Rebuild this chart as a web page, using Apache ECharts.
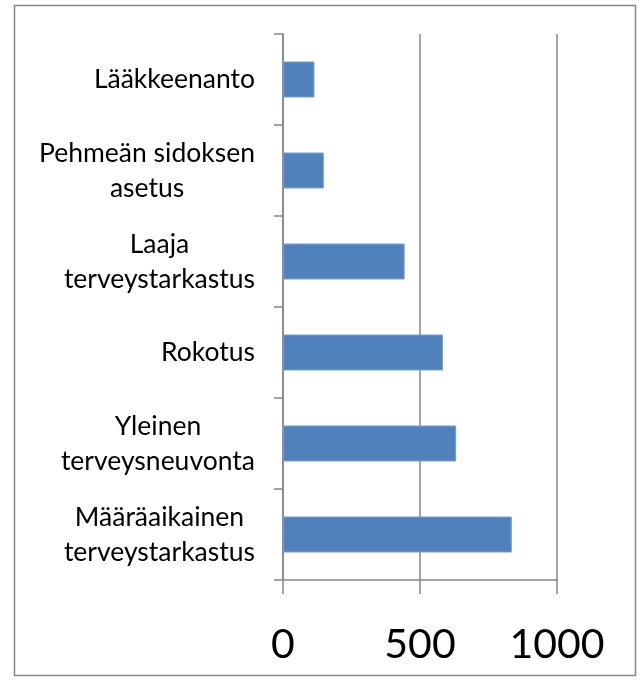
<!DOCTYPE html>
<html lang="fi">
<head>
    <meta charset="UTF-8"/>
    <title>Toimenpiteet</title>
    <script src="https://cdn.jsdelivr.net/npm/echarts@6/dist/echarts.min.js"></script>
    <style>
        body {
            margin: 0;
            background-color: #fff;
        }

        #chart {
            width: 641px;
            height: 681px;
        }
    </style>
</head>
<body>

<div id="chart"></div>

<script>
    // alhaalta ylös
    const categories = [
        'Määräaikainen\nterveystarkastus',
        'Yleinen\nterveysneuvonta',
        'Rokotus',
        'Laaja\nterveystarkastus',
        'Pehmeän sidoksen\nasetus',
        'Lääkkeenanto'
    ];
    const counts = [835, 632, 584, 444, 149, 115];
    const xTicks = [0, 500, 1000];

    const axisGray = '#868686';

    const chart = echarts.init(document.getElementById('chart'));
    chart.setOption({
        animation: false,
        textStyle: {fontFamily: 'Lato'},
        graphic: [{
            type: 'rect',
            shape: {x: 14.5, y: 5.5, width: 621, height: 670},
            style: {fill: 'none', stroke: axisGray, lineWidth: 1.5}
        }],
        grid: {left: 283, right: 84, top: 34, bottom: 101},
        xAxis: {
            type: 'value',
            min: xTicks[0],
            max: xTicks[xTicks.length - 1],
            interval: 500,
            axisLine: {show: true, lineStyle: {color: axisGray, width: 1.5}},
            axisTick: {show: true, length: 14, lineStyle: {color: axisGray, width: 1.5}},
            splitLine: {show: true, lineStyle: {color: axisGray, width: 1.5}},
            axisLabel: {
                color: '#000', fontSize: 41, margin: 44,
                formatter: function (v) { return String(v); }
            }
        },
        yAxis: {
            type: 'category',
            data: categories,
            axisLine: {show: true, lineStyle: {color: axisGray, width: 1.5}},
            axisTick: {show: true, length: 9, lineStyle: {color: axisGray, width: 1.5}},
            axisLabel: {
                margin: 28,
                formatter: function (v) {
                    return v.split('\n').map(function (l) { return '{c|' + l + '}'; }).join('\n');
                },
                rich: {
                    c: {align: 'center', color: '#000', fontSize: 26.5, lineHeight: 35, fontFamily: 'Lato'}
                }
            }
        },
        series: [{
            type: 'bar',
            data: counts,
            barWidth: 36,
            itemStyle: {color: '#4F81BD', borderColor: '#7A9FCF', borderWidth: 1}
        }]
    });
</script>

</body>
</html>
